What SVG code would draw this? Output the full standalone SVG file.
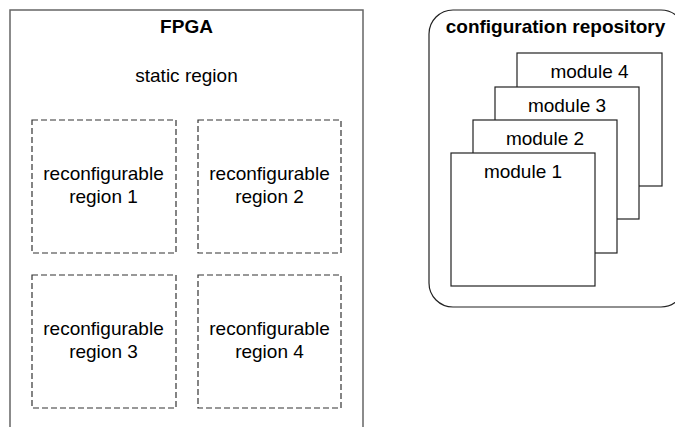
<svg xmlns="http://www.w3.org/2000/svg" width="675" height="427" viewBox="0 0 675 427">
  <style>
    text { font-family: "Liberation Sans", Arial, sans-serif; font-size: 19px; fill: #000; text-anchor: middle; }
    .bold { font-weight: bold; }
    .fpga { fill: #fff; stroke: #666; stroke-width: 1.5; }
    .rr { fill: #fff; stroke: #333; stroke-width: 1.2; stroke-dasharray: 6 3; }
    .repo { fill: #fff; stroke: #222; stroke-width: 1.2; }
    .mod { fill: #fff; stroke: #222; stroke-width: 1.2; }
  </style>
  <rect width="675" height="427" fill="#fff"/>

  <!-- FPGA device with static region -->
  <g id="fpga">
    <path class="fpga" d="M10,440 V10 H363 V440"/>
    <text class="bold" x="186.5" y="33">FPGA</text>
    <text x="186.5" y="82">static region</text>
  </g>

  <!-- reconfigurable regions -->
  <g id="region1">
    <rect class="rr" x="32" y="120" width="144" height="133"/>
    <text x="103.5" y="180">reconfigurable</text>
    <text x="103.5" y="203">region 1</text>
  </g>
  <g id="region2">
    <rect class="rr" x="198" y="120" width="143" height="133"/>
    <text x="269.5" y="180">reconfigurable</text>
    <text x="269.5" y="203">region 2</text>
  </g>
  <g id="region3">
    <rect class="rr" x="32" y="275" width="144" height="133"/>
    <text x="103.5" y="335">reconfigurable</text>
    <text x="103.5" y="358">region 3</text>
  </g>
  <g id="region4">
    <rect class="rr" x="198" y="275" width="143" height="133"/>
    <text x="269.5" y="335">reconfigurable</text>
    <text x="269.5" y="358">region 4</text>
  </g>

  <!-- configuration repository -->
  <g id="repository">
    <rect class="repo" x="429" y="10" width="256" height="297" rx="24" ry="24"/>
    <text class="bold" x="555.5" y="33">configuration repository</text>
  </g>

  <!-- stacked bitstream modules -->
  <g id="module4">
    <rect class="mod" x="517" y="53" width="145" height="133"/>
    <text x="589.5" y="78">module 4</text>
  </g>
  <g id="module3">
    <rect class="mod" x="495" y="87" width="144" height="132"/>
    <text x="567" y="112">module 3</text>
  </g>
  <g id="module2">
    <rect class="mod" x="473" y="120" width="144" height="133"/>
    <text x="545" y="145">module 2</text>
  </g>
  <g id="module1">
    <rect class="mod" x="451" y="153" width="144" height="133"/>
    <text x="523" y="178">module 1</text>
  </g>

  <g id="connectors"/>
</svg>
